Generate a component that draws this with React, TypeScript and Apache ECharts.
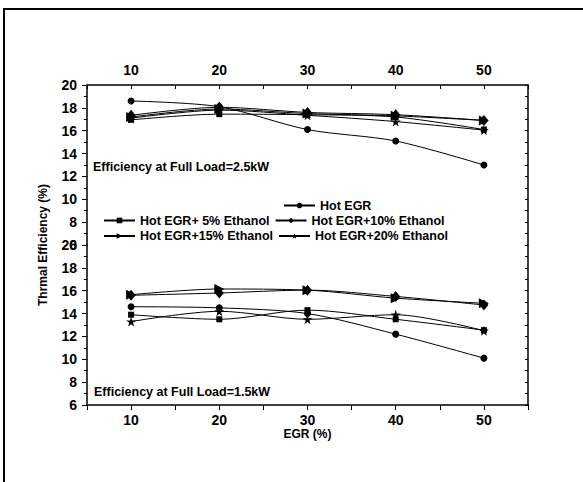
import React, { useEffect, useRef } from "react";
import * as echarts from "echarts";

const egrLevels = [10, 20, 30, 40, 50];
const xTicks = [10, 20, 30, 40, 50];

const seriesNames = [
  "Hot EGR",
  "Hot EGR+ 5% Ethanol",
  "Hot EGR+10% Ethanol",
  "Hot EGR+15% Ethanol",
  "Hot EGR+20% Ethanol",
];

// Full load 2.5 kW (upper panel)
const hotEgr25 = [18.6, 18.1, 16.1, 15.1, 13.0];
const eth5_25 = [16.95, 17.45, 17.4, 17.2, 16.1];
const eth10_25 = [17.35, 18.05, 17.6, 17.4, 16.9];
const eth15_25 = [17.2, 17.9, 17.5, 17.3, 16.9];
const eth20_25 = [17.1, 17.8, 17.35, 16.8, 16.05];

// Full load 1.5 kW (lower panel)
const hotEgr15 = [14.6, 14.5, 14.0, 12.2, 10.1];
const eth5_15 = [13.9, 13.5, 14.3, 13.5, 12.55];
const eth10_15 = [15.6, 15.8, 16.05, 15.5, 14.75];
const eth15_15 = [15.65, 16.15, 16.05, 15.35, 14.9];
const eth20_15 = [13.3, 14.2, 13.5, 13.9, 12.5];

const FONT = 'Arial, "Liberation Sans", sans-serif';
const STAR =
  "path://M50,0 L61,35 L98,35 L68,57 L79,91 L50,70 L21,91 L32,57 L2,35 L39,35 Z";

const symbols: any[] = [
  { symbol: "circle", symbolSize: 7, symbolRotate: 0 },
  { symbol: "rect", symbolSize: 6, symbolRotate: 0 },
  { symbol: "diamond", symbolSize: [9, 11], symbolRotate: 0 },
  { symbol: "triangle", symbolSize: 10, symbolRotate: -90 },
  { symbol: STAR, symbolSize: 10, symbolRotate: 0 },
];

export default function App() {
  const ref = useRef<HTMLDivElement>(null);
  useEffect(() => {
    if (!ref.current) return;
    const chart = echarts.init(ref.current, null, { renderer: "svg" });

    const upper = [hotEgr25, eth5_25, eth10_25, eth15_25, eth20_25];
    const lower = [hotEgr15, eth5_15, eth10_15, eth15_15, eth20_15];

    const mk = (vals: number[], i: number, panel: number) => ({
      type: "line",
      name: seriesNames[i],
      xAxisIndex: panel,
      yAxisIndex: panel * 2,
      data: vals.map((v, k) => [egrLevels[k], v]),
      smooth: 0.3,
      ...symbols[i],
      showSymbol: true,
      itemStyle: { color: "#000" },
      lineStyle: { color: "#000", width: 1 },
      z: 3,
    });

    const series: any[] = [];
    upper.forEach((v, i) => series.push(mk(v, i, 0)));
    lower.forEach((v, i) => series.push(mk(v, i, 1)));

    const axisLine = { show: true, lineStyle: { color: "#000", width: 1.5 } };
    const labelStyle = {
      color: "#000",
      fontSize: 14,
      fontWeight: "bold",
      fontFamily: FONT,
    };

    const xAxisBase = (grid: number, pos: string, inside: boolean) => ({
      type: "value",
      gridIndex: grid,
      position: pos,
      min: 5,
      max: 55,
      interval: 5,
      axisLine,
      axisTick: {
        show: true,
        inside,
        length: inside ? 4 : 5,
        lineStyle: { color: "#000", width: 1 },
      },
      axisLabel: {
        ...labelStyle,
        margin: 8,
        showMinLabel: true,
        showMaxLabel: true,
        formatter: (v: number) => (xTicks.indexOf(v) >= 0 ? String(v) : ""),
      },
      splitLine: { show: false },
    });

    const yLeft = (grid: number) => ({
      type: "value",
      gridIndex: grid,
      position: "left",
      min: 6,
      max: 20,
      interval: 2,
      axisLine,
      axisTick: { show: true, inside: false, length: 5, lineStyle: { color: "#000", width: 1 } },
      minorTick: { show: true, splitNumber: 2, length: 3, lineStyle: { color: "#000", width: 1 } },
      axisLabel: { ...labelStyle, margin: 10, showMinLabel: true, showMaxLabel: true },
      splitLine: { show: false },
      minorSplitLine: { show: false },
    });

    const yRight = (grid: number) => ({
      type: "value",
      gridIndex: grid,
      position: "right",
      min: 6,
      max: 20,
      interval: 2,
      axisLine,
      axisTick: { show: true, inside: true, length: 3, lineStyle: { color: "#000", width: 1 } },
      minorTick: { show: true, splitNumber: 2, length: 3, lineStyle: { color: "#000", width: 1 } },
      axisLabel: { show: false },
      splitLine: { show: false },
      minorSplitLine: { show: false },
    });

    const legendText = {
      color: "#000",
      fontSize: 12.5,
      fontWeight: "bold",
      fontFamily: FONT,
    };
    const legendBase = {
      orient: "horizontal",
      padding: 0,
      itemWidth: 31,
      itemHeight: 7,
      itemGap: 5,
      selectedMode: false,
      textStyle: legendText,
    };

    chart.setOption({
      animation: false,
      backgroundColor: "#fff",
      grid: [
        { left: 87, top: 85, width: 441, height: 160, containLabel: false },
        { left: 87, top: 245, width: 441, height: 160, containLabel: false },
      ],
      xAxis: [
        xAxisBase(0, "top", true),
        {
          ...xAxisBase(1, "bottom", false),
          name: "EGR (%)",
          nameLocation: "middle",
          nameGap: 23,
          nameTextStyle: { color: "#000", fontSize: 12, fontWeight: "bold", fontFamily: FONT },
        },
      ],
      yAxis: [yLeft(0), yRight(0), yLeft(1), yRight(1)],
      legend: [
        { ...legendBase, data: [seriesNames[0]], left: 283, top: 199 },
        { ...legendBase, data: [seriesNames[1], seriesNames[2]], left: 103, top: 214 },
        { ...legendBase, data: [seriesNames[3], seriesNames[4]], left: 103, top: 229.5 },
      ],
      graphic: [
        {
          type: "rect",
          silent: true,
          z: -1,
          shape: { x: 4, y: 9, width: 700, height: 600 },
          style: { fill: "none", stroke: "#000", lineWidth: 2 },
        },
        {
          type: "text",
          x: 93,
          y: 167,
          style: {
            text: "Efficiency at Full Load=2.5kW",
            fill: "#000",
            font: `bold 12.5px ${FONT}`,
            textVerticalAlign: "middle",
          },
        },
        {
          type: "text",
          x: 94,
          y: 392,
          style: {
            text: "Efficiency at Full Load=1.5kW",
            fill: "#000",
            font: `bold 12.5px ${FONT}`,
            textVerticalAlign: "middle",
          },
        },
        {
          type: "text",
          x: 43,
          y: 245,
          rotation: Math.PI / 2,
          style: {
            text: "Thrmal Efficiency (%)",
            fill: "#000",
            font: `bold 12px ${FONT}`,
            textAlign: "center",
            textVerticalAlign: "middle",
          },
        },
      ],
      series,
    });

    return () => chart.dispose();
  }, []);

  return (
    <div
      ref={ref}
      style={{ position: "absolute", left: 0, top: 0, width: 583, height: 482 }}
    />
  );
}
